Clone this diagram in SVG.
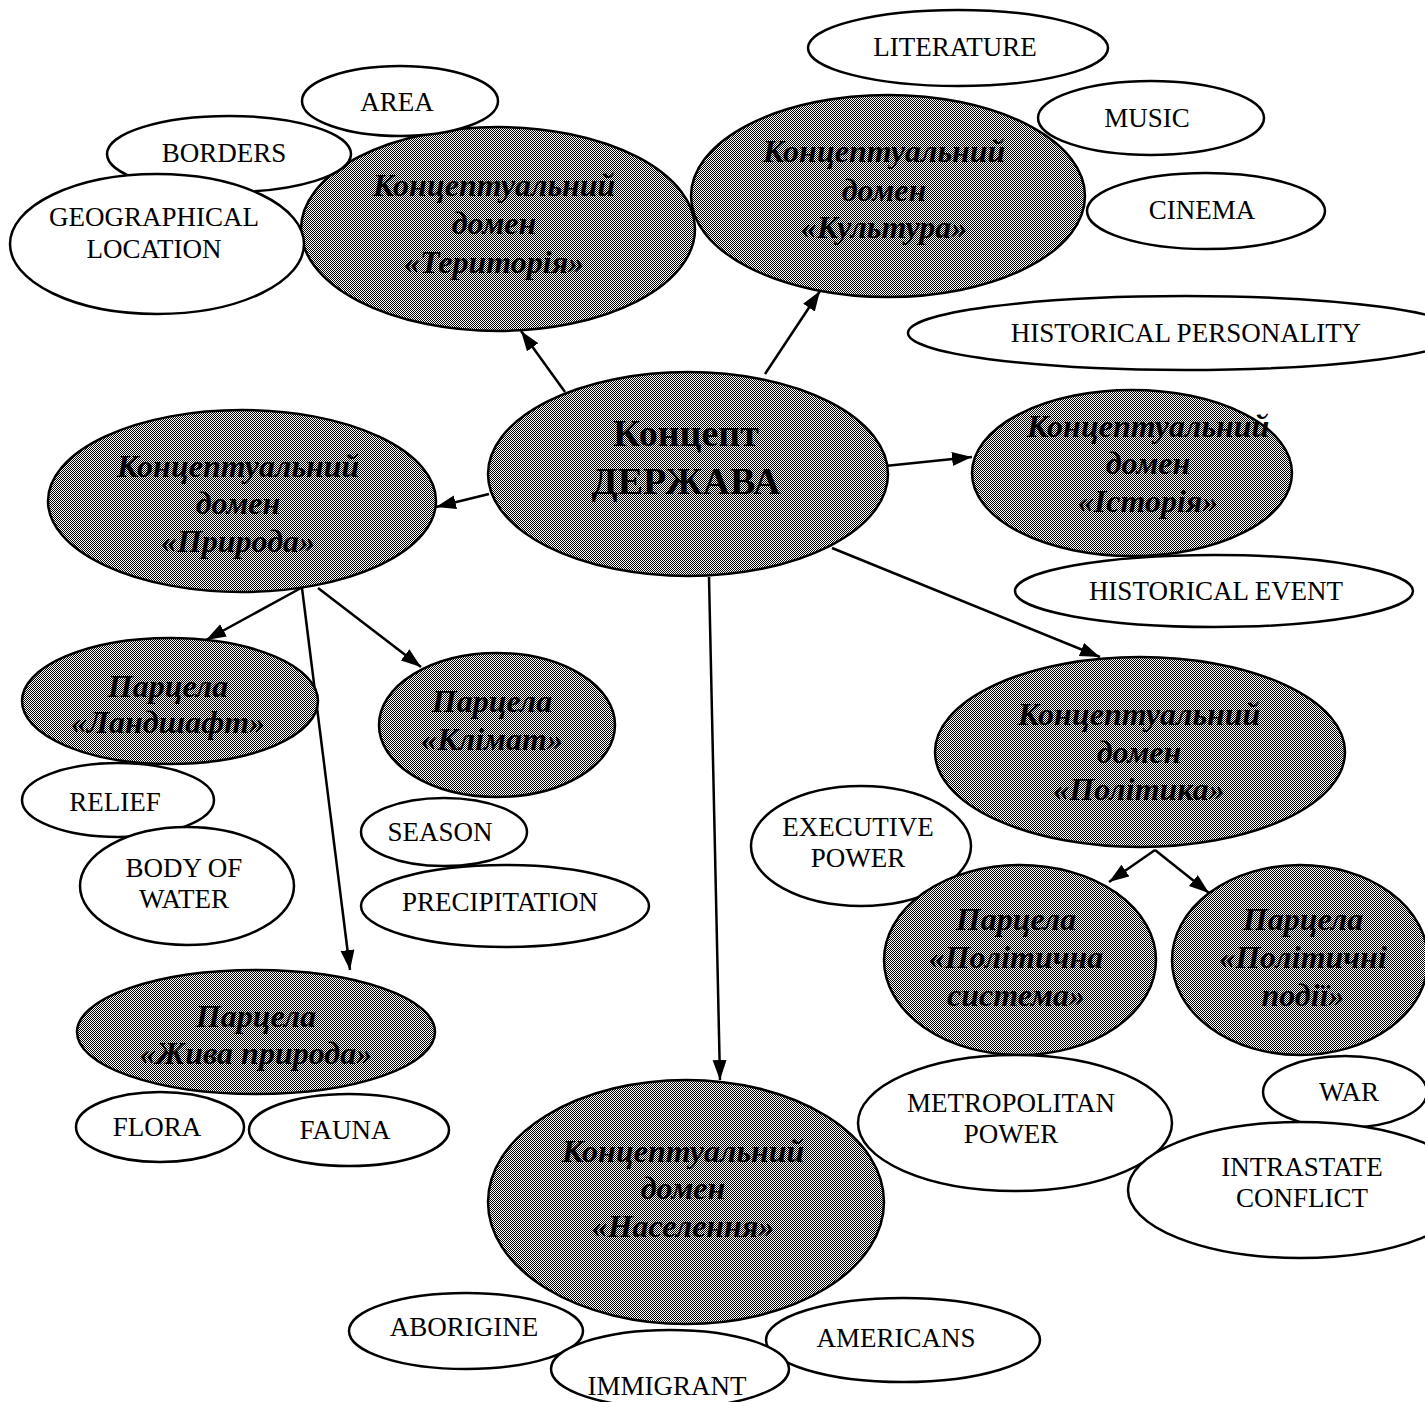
<svg xmlns="http://www.w3.org/2000/svg" width="1425" height="1402" viewBox="0 0 1425 1402">
<defs>
<pattern id="hatch" width="2" height="2" patternUnits="userSpaceOnUse">
<rect width="2" height="2" fill="#fff"/>
<rect width="1" height="1" fill="#000"/>
<rect x="1" y="1" width="1" height="1" fill="#000"/>
</pattern>
<marker id="arr" markerUnits="userSpaceOnUse" markerWidth="22" markerHeight="16" refX="20" refY="7" orient="auto">
<path d="M0,0 L20,7 L0,14 z" fill="#000"/>
</marker>
<style>
.g{fill:url(#hatch);stroke:#000;stroke-width:2.5}
.w{fill:#fff;stroke:#000;stroke-width:2.5}
.gt{font-family:"Liberation Serif","Times New Roman",serif;font-weight:bold;font-style:italic;font-size:32px;fill:#000;text-anchor:middle}
.ct{font-family:"Liberation Serif","Times New Roman",serif;font-weight:bold;font-size:38px;fill:#000;text-anchor:middle}
.wt{font-family:"Liberation Serif","Times New Roman",serif;font-size:27px;fill:#000;text-anchor:middle}
.c{stroke:#000;stroke-width:2.5;fill:none;marker-end:url(#arr)}
</style>
</defs>
<rect width="1425" height="1402" fill="#fff"/>

<g id="connectors">
<line class="c" x1="565" y1="392" x2="521" y2="331"/>
<line class="c" x1="765" y1="374" x2="820" y2="291"/>
<line class="c" x1="489" y1="494" x2="436" y2="507"/>
<line class="c" x1="885" y1="466" x2="972" y2="457"/>
<line class="c" x1="832" y1="548" x2="1100" y2="657"/>
<line class="c" x1="709" y1="577" x2="720" y2="1080"/>
<line class="c" x1="301" y1="588" x2="206" y2="640"/>
<line class="c" x1="318" y1="588" x2="421" y2="667"/>
<line class="c" x1="302" y1="588" x2="350" y2="970"/>
<line class="c" x1="1155" y1="850" x2="1109" y2="882"/>
<line class="c" x1="1155" y1="850" x2="1209" y2="893"/>
</g>

<g id="n-territory"><ellipse class="g" cx="498" cy="229" rx="197" ry="102"/><text class="gt" x="494" y="196">Концептуальний</text><text class="gt" x="494" y="234">домен</text><text class="gt" x="494" y="273">«Територія»</text></g>
<g id="n-area"><ellipse class="w" cx="400" cy="101" rx="98" ry="35"/><text class="wt" x="397" y="111">AREA</text></g>
<g id="n-borders"><ellipse class="w" cx="229" cy="154" rx="122" ry="38"/><text class="wt" x="224" y="162">BORDERS</text></g>
<g id="n-geo"><ellipse class="w" cx="157" cy="244" rx="147" ry="70"/><text class="wt" x="154" y="226">GEOGRAPHICAL</text><text class="wt" x="154" y="258">LOCATION</text></g>

<g id="n-culture"><ellipse class="g" cx="888" cy="196" rx="197" ry="101"/><text class="gt" x="884" y="162">Концептуальний</text><text class="gt" x="884" y="201">домен</text><text class="gt" x="884" y="238">«Культура»</text></g>
<g id="n-literature"><ellipse class="w" cx="958" cy="48" rx="150" ry="38"/><text class="wt" x="955" y="56">LITERATURE</text></g>
<g id="n-music"><ellipse class="w" cx="1151" cy="118" rx="113" ry="37"/><text class="wt" x="1147" y="127">MUSIC</text></g>
<g id="n-cinema"><ellipse class="w" cx="1206" cy="211" rx="119" ry="38"/><text class="wt" x="1202" y="219">CINEMA</text></g>

<g id="n-histpers"><ellipse class="w" cx="1185" cy="333" rx="277" ry="37"/><text class="wt" x="1186" y="342">HISTORICAL PERSONALITY</text></g>
<g id="n-history"><ellipse class="g" cx="1132" cy="473" rx="160" ry="83"/><text class="gt" x="1148" y="437">Концептуальний</text><text class="gt" x="1148" y="474">домен</text><text class="gt" x="1148" y="512">«Історія»</text></g>
<g id="n-histevent"><ellipse class="w" cx="1214" cy="591" rx="199" ry="36"/><text class="wt" x="1216" y="600">HISTORICAL EVENT</text></g>

<g id="n-center"><ellipse class="g" cx="688" cy="474" rx="200" ry="102"/><text class="ct" x="686" y="446">Концепт</text><text class="ct" x="686" y="494">ДЕРЖАВА</text></g>

<g id="n-nature"><ellipse class="g" cx="242" cy="501" rx="194" ry="91"/><text class="gt" x="238" y="477">Концептуальний</text><text class="gt" x="238" y="514">домен</text><text class="gt" x="238" y="552">«Природа»</text></g>

<g id="n-landscape"><ellipse class="g" cx="170" cy="701" rx="148" ry="63"/><text class="gt" x="168" y="697">Парцела</text><text class="gt" x="168" y="733">«Ландшафт»</text></g>
<g id="n-climate"><ellipse class="g" cx="497" cy="725" rx="118" ry="72"/><text class="gt" x="492" y="712">Парцела</text><text class="gt" x="492" y="750">«Клімат»</text></g>
<g id="n-relief"><ellipse class="w" cx="118" cy="800" rx="96" ry="37"/><text class="wt" x="115" y="811">RELIEF</text></g>
<g id="n-water"><ellipse class="w" cx="187" cy="886" rx="107" ry="59"/><text class="wt" x="184" y="877">BODY OF</text><text class="wt" x="184" y="908">WATER</text></g>
<g id="n-season"><ellipse class="w" cx="444" cy="832" rx="83" ry="34"/><text class="wt" x="440" y="841">SEASON</text></g>
<g id="n-precip"><ellipse class="w" cx="505" cy="906" rx="144" ry="41"/><text class="wt" x="500" y="911">PRECIPITATION</text></g>
<g id="n-wildlife"><ellipse class="g" cx="256" cy="1032" rx="179" ry="62"/><text class="gt" x="256" y="1027">Парцела</text><text class="gt" x="256" y="1064">«Жива природа»</text></g>
<g id="n-flora"><ellipse class="w" cx="160" cy="1127" rx="84" ry="35"/><text class="wt" x="157" y="1136">FLORA</text></g>
<g id="n-fauna"><ellipse class="w" cx="349" cy="1130" rx="100" ry="36"/><text class="wt" x="345" y="1139">FAUNA</text></g>

<g id="n-politics"><ellipse class="g" cx="1140" cy="752" rx="205" ry="95"/><text class="gt" x="1139" y="725">Концептуальний</text><text class="gt" x="1139" y="763">домен</text><text class="gt" x="1139" y="800">«Політика»</text></g>
<g id="n-exec"><ellipse class="w" cx="861" cy="846" rx="110" ry="60"/><text class="wt" x="858" y="836">EXECUTIVE</text><text class="wt" x="858" y="867">POWER</text></g>
<g id="n-polsys"><ellipse class="g" cx="1020" cy="960" rx="136" ry="95"/><text class="gt" x="1016" y="930">Парцела</text><text class="gt" x="1016" y="968">«Політична</text><text class="gt" x="1016" y="1006">система»</text></g>
<g id="n-polev"><ellipse class="g" cx="1300" cy="960" rx="128" ry="95"/><text class="gt" x="1303" y="930">Парцела</text><text class="gt" x="1303" y="968">«Політичні</text><text class="gt" x="1303" y="1006">події»</text></g>
<g id="n-metro"><ellipse class="w" cx="1015" cy="1123" rx="157" ry="68"/><text class="wt" x="1011" y="1112">METROPOLITAN</text><text class="wt" x="1011" y="1143">POWER</text></g>
<g id="n-war"><ellipse class="w" cx="1345" cy="1092" rx="82" ry="36"/><text class="wt" x="1349" y="1101">WAR</text></g>
<g id="n-intra"><ellipse class="w" cx="1300" cy="1190" rx="172" ry="68"/><text class="wt" x="1302" y="1176">INTRASTATE</text><text class="wt" x="1302" y="1207">CONFLICT</text></g>

<g id="n-population"><ellipse class="g" cx="686" cy="1202" rx="198" ry="122"/><text class="gt" x="683" y="1162">Концептуальний</text><text class="gt" x="683" y="1199">домен</text><text class="gt" x="683" y="1237">«Населення»</text></g>
<g id="n-aborigine"><ellipse class="w" cx="466" cy="1331" rx="117" ry="38"/><text class="wt" x="464" y="1336">ABORIGINE</text></g>
<g id="n-americans"><ellipse class="w" cx="903" cy="1340" rx="137" ry="42"/><text class="wt" x="896" y="1347">AMERICANS</text></g>
<g id="n-immigrant"><ellipse class="w" cx="670" cy="1369" rx="119" ry="39"/><text class="wt" x="667" y="1395">IMMIGRANT</text></g>
</svg>
